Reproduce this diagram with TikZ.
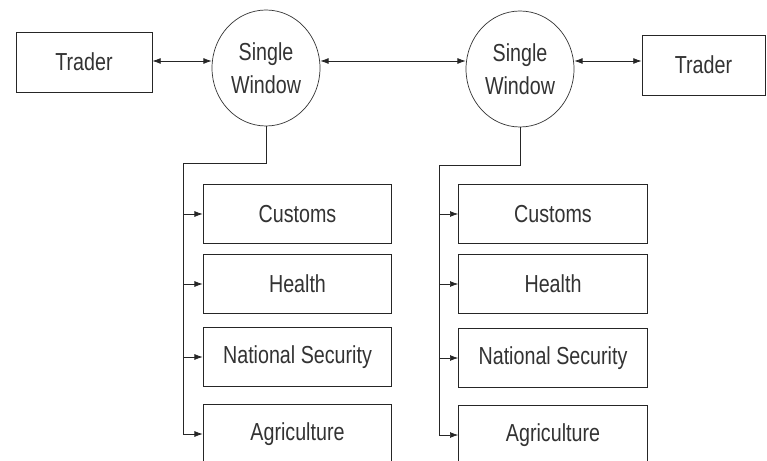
\documentclass[tikz,border=0pt]{standalone}
\usepackage{fontspec}
\setmainfont[FakeStretch=0.8]{Liberation Sans}
\usetikzlibrary{arrows.meta,shapes.geometric}
\begin{document}
\begin{tikzpicture}[x=0.03cm,y=-0.03cm,
  every node/.style={font=\fontsize{21pt}{28.5pt}\selectfont, text=black!80},
  box/.style={draw=black!85, line width=0.8pt, rectangle, inner sep=0pt},
  trader/.style={box, minimum height=1.8cm},
  agency/.style={box, minimum width=5.66cm, minimum height=1.76cm},
  sw/.style={draw=black!80, line width=0.6pt, ellipse, inner sep=0pt, minimum width=3.24cm, minimum height=3.48cm, align=center},
  conn/.style={draw=black!85, line width=0.6pt},
  tip/.style={-{Latex[length=7pt,width=5pt]}},
  dtip/.style={{Latex[length=7pt,width=5pt]}-{Latex[length=7pt,width=5pt]}}
]
\useasboundingbox (0,0) rectangle (767,461);
\clip (0,0) rectangle (767,461);
\fill[white] (0,0) rectangle (767,461);

% top row
\node[trader, minimum width=4.08cm] (t1) at (84,62) {Trader};
\node[trader, minimum width=3.69cm] (t2) at (703.5,65) {Trader};
\node[sw] (sw1) at (266,68) {Single\\Window};
\node[sw] (sw2) at (520,69) {Single\\Window};
\coordinate (arow) at (0,61);

\draw[conn,dtip] (t1.east |- arow) -- (sw1.west |- arow);
\draw[conn,dtip] (sw1.east |- arow) -- (sw2.west |- arow);
\draw[conn,dtip] (sw2.east |- arow) -- (t2.west |- arow);

% left agencies
\node[agency] (lc) at (297.5,214) {Customs};
\node[agency] (lh) at (297.5,284) {Health};
\node[agency] (ln) at (297.5,357) {National Security};
\node[agency] (la) at (297.5,434) {Agriculture};
% right agencies
\node[agency] (rc) at (553,214) {Customs};
\node[agency] (rh) at (553,284) {Health};
\node[agency] (rn) at (553,358) {National Security};
\node[agency] (ra) at (553,435) {Agriculture};

% left bus
\coordinate (bl) at (183,163);
\draw[conn] (sw1.south) |- (bl) -- (bl |- la.west);
\foreach \n in {lc,lh,ln,la} \draw[conn,tip] (bl |- \n.west) -- (\n.west);

% right bus
\coordinate (br) at (439,165);
\draw[conn] (sw2.south) |- (br) -- (br |- ra.west);
\foreach \n in {rc,rh,rn,ra} \draw[conn,tip] (br |- \n.west) -- (\n.west);
\end{tikzpicture}
\end{document}
